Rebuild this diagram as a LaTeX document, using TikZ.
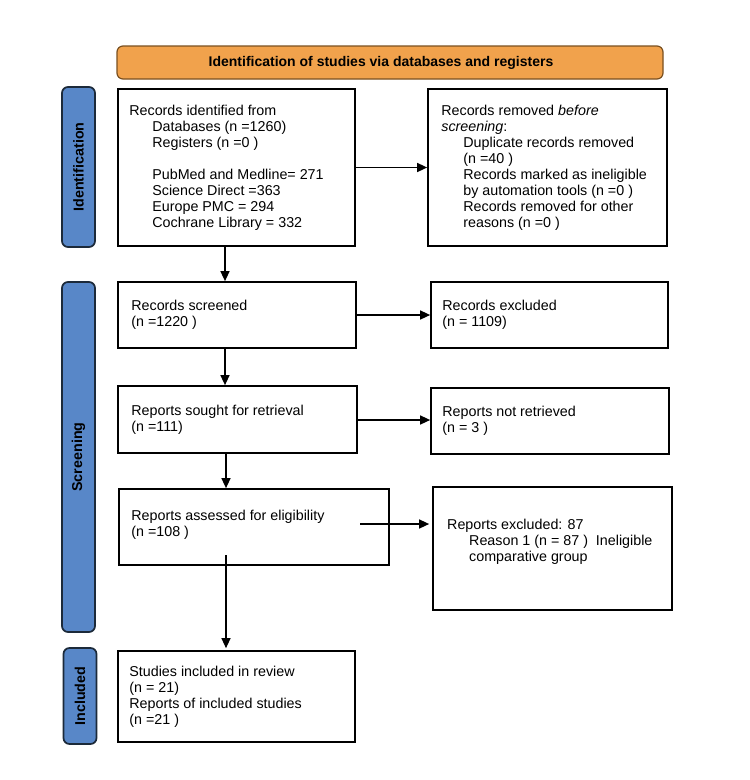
\documentclass[tikz,border=0pt]{standalone}
\usepackage{fontspec}
\setmainfont{Liberation Sans}
\usetikzlibrary{arrows.meta}
\definecolor{bannerfill}{HTML}{F1A24C}
\definecolor{bannerdraw}{HTML}{7A5020}
\definecolor{labelfill}{HTML}{5887C8}
\definecolor{labeldraw}{HTML}{1C2A3A}
\tikzset{
  box/.style={draw=black, line width=1.7pt, fill=white, inner sep=0pt},
  txt/.style={font=\fontsize{14.3}{16}\selectfont, align=left, inner sep=0pt, anchor=west},
  phase/.style={draw=labeldraw, fill=labelfill, line width=1.7pt, rounded corners=6pt, inner sep=0pt},
  phasetxt/.style={font=\bfseries\fontsize{14.3}{16}\selectfont, rotate=90, inner sep=0pt},
  banner/.style={draw=bannerdraw, fill=bannerfill, line width=1.2pt, rounded corners=6pt, inner sep=0pt},
  bannertxt/.style={font=\bfseries\fontsize{14}{16}\selectfont, inner sep=0pt},
  arr/.style={line width=1.4pt, -{Triangle[length=10pt,width=9pt]}},
}
\newcommand{\ind}{\hspace*{22pt}}
\begin{document}
\begin{tikzpicture}[x=1pt,y=-1pt]
\useasboundingbox (0,0) rectangle (750,780);
\fill[white] (0,0) rectangle (750,780);

% banner
\node[banner, minimum width=546pt, minimum height=33pt] (ban) at (390,62.5) {};
\node[bannertxt] (bant) at (381,62.5) {Identification of studies via databases and registers};

% phase labels
\node[phase, minimum width=33pt, minimum height=160pt] (p1) at (78.5,167) {};
\node[phasetxt] (p1t) at (p1.center) {Identification};
\node[phase, minimum width=33pt, minimum height=350pt] (p2) at (78.5,457) {};
\node[phasetxt] (p2t) at (p2.center) {Screening};
\node[phase, minimum width=33pt, minimum height=96pt] (p3) at (80,696) {};
\node[phasetxt] (p3t) at (p3.center) {Included};

% boxes
\node[box, minimum width=237pt, minimum height=157pt] (b1) at (236.5,167.5) {};
\node[txt] (t1) at ([xshift=12pt]b1.west) {Records identified from\\
\hspace*{23pt}Databases (n =1260)\\
\hspace*{23pt}Registers (n =0 )\\[16pt]
\hspace*{23pt}PubMed and Medline= 271\\
\hspace*{23pt}Science Direct =363\\
\hspace*{23pt}Europe PMC = 294\\
\hspace*{23pt}Cochrane Library = 332};

\node[box, minimum width=239pt, minimum height=157pt] (b2) at (547.5,167.5) {};
\node[txt] (t2) at ([xshift=14pt]b2.west) {Records removed \textit{before}\\
\textit{screening}:\\
\ind Duplicate records removed\\
\ind (n =40 )\\
\ind Records marked as ineligible\\
\ind by automation tools (n =0 )\\
\ind Records removed for other\\
\ind reasons (n =0 )};

\node[box, minimum width=238pt, minimum height=66pt] (b3) at (237,315) {};
\node[txt] (t3) at ([xshift=14pt]b3.west) {Records screened\\(n =1220 )};

\node[box, minimum width=237pt, minimum height=66pt] (b4) at (549.5,315) {};
\node[txt] (t4) at ([xshift=12pt]b4.west) {Records excluded\\(n = 1109)};

\node[box, minimum width=239pt, minimum height=67pt] (b5) at (237.5,419.5) {};
\node[txt] (t5) at ([xshift=14pt]b5.west) {Reports sought for retrieval\\(n =111)};

\node[box, minimum width=238pt, minimum height=66pt] (b6) at (550,421) {};
\node[txt] (t6) at ([xshift=12pt]b6.west) {Reports not retrieved\\(n = 3 )};

\node[box, minimum width=270pt, minimum height=76pt] (b7) at (254,527) {};
\node[txt] (t7) at ([xshift=13pt,yshift=2pt]b7.west) {Reports assessed for eligibility\\(n =108 )};

\node[box, minimum width=239pt, minimum height=123pt] (b8) at (552.5,548.5) {};
\node[txt, anchor=north west] (t8) at (447,519) {Reports excluded: 87\\
\ind Reason 1 (n = 87 )\ \ Ineligible\\
\ind comparative group};

\node[box, minimum width=237pt, minimum height=91pt] (b9) at (236.5,696.5) {};
\node[txt] (t9) at ([xshift=12pt]b9.west) {Studies included in review\\
(n = 21)\\
Reports of included studies\\
(n =21 )};

% connectors
\coordinate (cx) at (225,0);
\coordinate (s78) at (360,524);
\coordinate (s79) at (226,555);
\draw[arr] (b1.east) -- (b1.east -| b2.west);
\draw[arr] (b1.south -| cx) -- (b3.north -| cx);
\draw[arr] (b3.east) -- (b3.east -| b4.west);
\draw[arr] (b3.south -| cx) -- (b5.north -| cx);
\draw[arr] (b5.east) ++(0,0.5) -- (b6.west |- 0,420);
\draw[arr] (b5.south -| s79) -- (b7.north -| s79);
\draw[arr, shorten >=3pt] (s78) -- (s78 -| b8.west);
\draw[arr, shorten >=2pt] (s79) -- (s79 |- b9.north);
\end{tikzpicture}
\end{document}
